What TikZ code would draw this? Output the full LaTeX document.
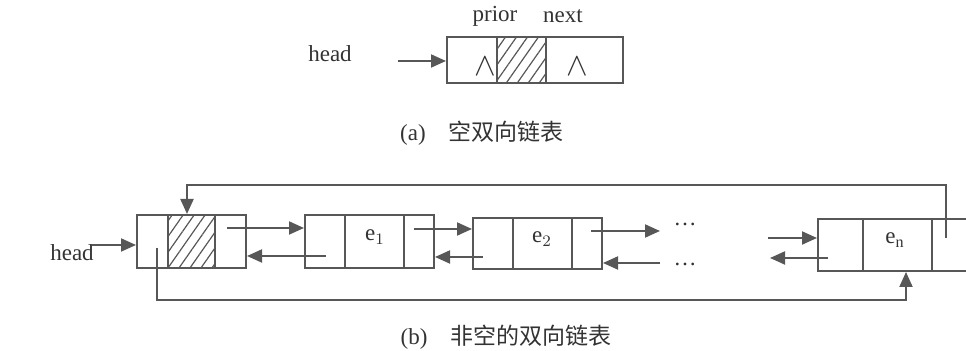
\documentclass[tikz,border=0pt]{standalone}
\usepackage{fontspec}
\setmainfont{Liberation Serif}
\newfontfamily\cjk{Noto Sans CJK SC}
\usetikzlibrary{arrows.meta,patterns.meta}
\colorlet{lc}{black!66}
\tikzset{
  cell/.style={draw=lc, line width=1pt, inner sep=0pt, text=black!80},
  hatch/.style={pattern={Lines[angle=55,distance=4.5pt,line width=.6pt]}, pattern color=lc},
  ptr/.style={draw=lc, line width=1pt, -{Triangle[length=7.5pt,width=6.5pt]}},
  lbl/.style={text=black!80, inner sep=0pt},
  nil/.style={text=black!80, inner sep=0pt, scale=1.35}
}

\begin{document}
\begin{tikzpicture}[x=0.5pt,y=-0.5pt, font=\fontsize{11.5}{13}\selectfont]
  \useasboundingbox (0,0) rectangle (966,351);

  % (a) empty list: one head node
  \node[cell, minimum width=25pt, minimum height=23pt] (ap) at (472,60) {};
  \node[cell, hatch, minimum width=24.5pt, minimum height=23pt] (ad) at (521.5,60) {};
  \node[cell, minimum width=38.5pt, minimum height=23pt] (an) at (584.5,60) {};
  \node[nil] (apn) at (485,67) {$\wedge$};
  \node[nil] (ann) at (577,67) {$\wedge$};
  \node[lbl] (prior) at (495,16) {prior};
  \node[lbl] (next) at (563,16) {next};
  \node[lbl] (ahead) at (330,54) {head};
  \coordinate (ahs) at (398,61);
  \draw[ptr] (ahs) -- (ahs -| ap.west);
  \node[lbl] (capa) at (482,133) {(a)\quad{\cjk 空双向链表}};

  % (b) non-empty list
  % head node
  \node[cell, minimum width=15.5pt, minimum height=26.5pt] (hp) at (152.5,241.5) {};
  \node[cell, hatch, minimum width=23.5pt, minimum height=26.5pt] (hd) at (191.5,241.5) {};
  \node[cell, minimum width=15.5pt, minimum height=26.5pt] (hn) at (230.5,241.5) {};
  % e1
  \node[cell, minimum width=20pt, minimum height=26.5pt] (e1p) at (325,241.5) {};
  \node[cell, minimum width=29.5pt, minimum height=26.5pt] (e1d) at (374.5,241.5) {};
  \node[cell, minimum width=15pt, minimum height=26.5pt] (e1n) at (419,241.5) {};
  % e2
  \node[cell, minimum width=20pt, minimum height=25.5pt] (e2p) at (493,243.5) {};
  \node[cell, minimum width=29.5pt, minimum height=25.5pt] (e2d) at (542.5,243.5) {};
  \node[cell, minimum width=15pt, minimum height=25.5pt] (e2n) at (587,243.5) {};
  % en
  \node[cell, minimum width=22.5pt, minimum height=26pt] (enp) at (840.5,245) {};
  \node[cell, minimum width=34.5pt, minimum height=26pt] (end) at (897.5,245) {};
  \node[cell, minimum width=21.5pt, minimum height=26pt] (enn) at (953.5,245) {};

  \node[lbl] (t1) at (375,237) {e$_1$};
  \node[lbl] (t2) at (542,239) {e$_2$};
  \node[lbl] (tn) at (895,240) {e$_\mathrm{n}$};
  \node[lbl] (dots1) at (685,224) {\dots};
  \node[lbl] (dots2) at (685,264) {\dots};

  % head pointer
  \node[lbl] (bhead) at (72,253) {head};
  \coordinate (bhs) at (92,245);
  \draw[ptr] (bhs) -- (bhs -| hp.west);

  % next / prior pointers
  \coordinate (hnS) at (227,228);
  \coordinate (e1pS) at (326,256);
  \coordinate (e1nS) at (414,229);
  \coordinate (e2pS) at (483,257);
  \coordinate (e2nS) at (591,231);
  \coordinate (gapA) at (660,231);
  \coordinate (gapB) at (660,263);
  \coordinate (gapC) at (768,238);
  \coordinate (enpS) at (828,258);
  \coordinate (gapD) at (770,258);
  \draw[ptr] (hnS) -- (hnS -| e1p.west);
  \draw[ptr] (e1pS) -- (e1pS -| hn.east);
  \draw[ptr] (e1nS) -- (e1nS -| e2p.west);
  \draw[ptr] (e2pS) -- (e2pS -| e1n.east);
  \draw[ptr] (e2nS) -- (gapA);
  \draw[ptr] (gapB) -- (gapB -| e2n.east);
  \draw[ptr] (gapC) -- (gapC -| enp.west);
  \draw[ptr] (enpS) -- (gapD);

  % circular links
  \coordinate (ennS) at (946,238);
  \coordinate (hpS) at (157,248);
  \draw[ptr] (ennS) -- (946,185) -- (187,185) -- (hd.north -| 187,0);
  \draw[ptr] (hpS) -- (157,300) -- (906,300) -- (enp.south -| 906,0);

  \node[lbl] (capb) at (506,337) {(b)\quad{\cjk 非空的双向链表}};
\end{tikzpicture}
\end{document}
